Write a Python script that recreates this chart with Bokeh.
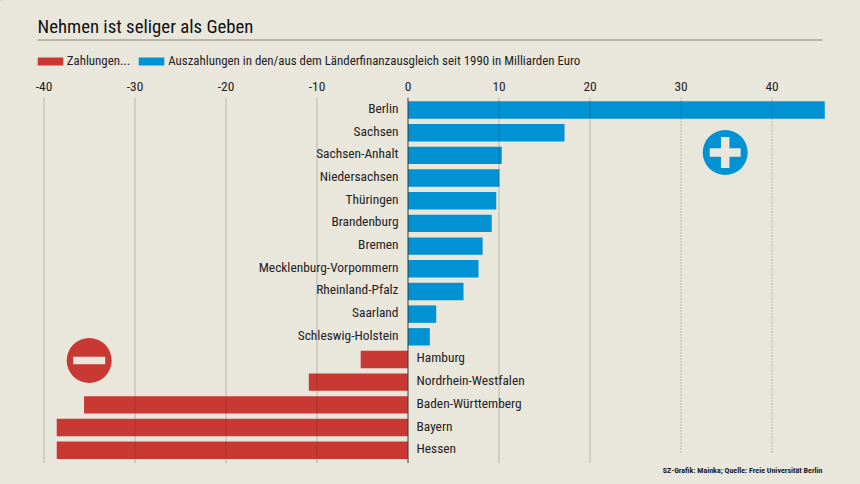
from bokeh.plotting import figure
from bokeh.models import Range1d, FixedTicker, Legend, LegendItem
from bokeh.layouts import column
from bokeh.core.properties import value
from bokeh.embed import file_html
from bokeh.resources import INLINE

title_text = "Nehmen ist seliger als Geben"
legend_red = "Zahlungen..."
legend_blue = "Auszahlungen in den/aus dem Länderfinanzausgleich seit 1990 in Milliarden Euro"
source_text = "SZ-Grafik: Mainka; Quelle: Freie Universität Berlin"

receivers = ["Berlin", "Sachsen", "Sachsen-Anhalt", "Niedersachsen", "Thüringen", "Brandenburg", "Bremen",
             "Mecklenburg-Vorpommern", "Rheinland-Pfalz", "Saarland", "Schleswig-Holstein"]
receiver_values = [45.8, 17.2, 10.3, 10.05, 9.7, 9.2, 8.2, 7.75, 6.1, 3.1, 2.4]
payers = ["Hamburg", "Nordrhein-Westfalen", "Baden-Württemberg", "Bayern", "Hessen"]
payer_values = [-5.2, -10.9, -35.6, -38.6, -38.6]
ticks = [-40, -30, -20, -10, 0, 10, 20, 30, 40]
tick_labels = ["-40", "-30", "-20", "-10", "0", "10", "20", "30", "40"]

BG = "#e9e6dc"; RED = "#c93832"; BLUE = "#0092d2"; INK = "#222222"
FONT = "Roboto Condensed"
LABEL_SIZE = "13.4px"
W, H = 860, 484
HEAD = 71
FOOT = 21
TOP, BOTTOM = 97 - HEAD, 463 - HEAD
PX_X, PX_Y = 9.1, 22.68
X0, Y0 = 407.5, 109.5 - HEAD

x_range = Range1d(-X0 / PX_X, (W - X0) / PX_X)
y_range = Range1d((BOTTOM - Y0) / PX_Y, (TOP - Y0) / PX_Y)

p = figure(width=W, height=H - HEAD - FOOT, x_range=x_range, y_range=y_range, output_backend="svg",
           toolbar_location=None, x_axis_location="above", y_axis_location=None, min_border_left=0,
           min_border_right=0, min_border_top=TOP, min_border_bottom=0, background_fill_color=BG,
           border_fill_color=BG)
p.outline_line_color = None
p.grid.visible = False

ax = p.xaxis[0]
ax.ticker = FixedTicker(ticks=ticks)
ax.major_label_overrides = dict(zip(ticks, tick_labels))
ax.axis_line_color = None
ax.major_tick_line_color = None
ax.minor_tick_line_color = None
ax.major_label_text_font = FONT
ax.major_label_text_font_size = LABEL_SIZE
ax.major_label_text_color = INK
ax.major_label_standoff = 1

recv_y = list(range(len(receivers)))
pay_y = [len(receivers) + i for i in range(len(payers))]
bar_h = 17.4 / PX_Y
p.hbar(y=recv_y, left=0, right=receiver_values, height=bar_h, fill_color=BLUE, line_color=None)
p.hbar(y=pay_y, left=0, right=payer_values, height=bar_h, fill_color=RED, line_color=None)

long_ticks = [t for t in ticks if t != 0 and t <= 20]
short_ticks = [t for t in ticks if t > 20]
p.segment(x0=long_ticks, x1=long_ticks, y0=y_range.end, y1=y_range.start, line_color="#3a3a34",
          line_alpha=0.7, line_width=0.8, line_dash="1 1")
p.segment(x0=short_ticks, x1=short_ticks, y0=y_range.end, y1=(452 - HEAD - Y0) / PX_Y, line_color="#3a3a34",
          line_alpha=0.7, line_width=0.8, line_dash="1 2")
p.segment(x0=[0], x1=[0], y0=y_range.end, y1=y_range.start, line_color="#3a3a34", line_width=1)

p.text(x=0, y=recv_y, text=receivers, x_offset=-9.5, y_offset=-1.5, text_align="right", text_baseline="middle",
       text_font=value(FONT), text_font_size=LABEL_SIZE, text_color=INK)
p.text(x=0, y=pay_y, text=payers, x_offset=8.5, y_offset=-1.5, text_align="left", text_baseline="middle",
       text_font=value(FONT), text_font_size=LABEL_SIZE, text_color=INK)

plus_x, plus_y = (724.7 - X0) / PX_X, (152 - HEAD - Y0) / PX_Y
minus_x, minus_y = (88.7 - X0) / PX_X, (360 - HEAD - Y0) / PX_Y
p.scatter(x=[plus_x], y=[plus_y], size=45, marker="circle", fill_color=BLUE, line_color=None)
p.rect(x=[plus_x, plus_x], y=[plus_y, plus_y], width=[31, 8.5], height=[8.5, 31],
       width_units="screen", height_units="screen", fill_color=BG, line_color=None)
p.scatter(x=[minus_x], y=[minus_y], size=45, marker="circle", fill_color=RED, line_color=None)
p.rect(x=[minus_x], y=[minus_y], width=32, height=7.5, width_units="screen", height_units="screen",
       fill_color=BG, line_color=None)

# header: title, rule, legend
head = figure(width=W, height=HEAD, x_range=Range1d(0, W), y_range=Range1d(HEAD, 0), output_backend="svg",
              toolbar_location=None, x_axis_location=None, y_axis_location=None, min_border=0,
              background_fill_color=BG, border_fill_color=BG)
head.outline_line_color = None
head.grid.visible = False
head.text(x=[37], y=[26], text=[title_text], text_font=value(FONT), text_font_size="18.8px", text_color="#111111",
          text_baseline="alphabetic")
head.segment(x0=[37], x1=[822], y0=[39.5], y1=[39.5], line_color="#a8a597", line_width=1.5)
# swatch sources lie off the visible range: only their legend entries show
sw_red = head.hbar(y=[-50], left=[0], right=[1], height=1, fill_color=RED, line_color=None)
sw_blue = head.hbar(y=[-50], left=[0], right=[1], height=1, fill_color=BLUE, line_color=None)
legend = Legend(items=[LegendItem(label=legend_red, renderers=[sw_red]),
                       LegendItem(label=legend_blue, renderers=[sw_blue])],
                orientation="horizontal", location=(33.75, 3), margin=0, padding=0, spacing=5,
                glyph_width=32, glyph_height=10, label_standoff=1, background_fill_alpha=0, border_line_alpha=0,
                label_text_font=FONT, label_text_font_size="12.9px", label_text_color=INK)
head.add_layout(legend, "center")

# footer: source line
foot = figure(width=W, height=FOOT, x_range=Range1d(0, W), y_range=Range1d(FOOT, 0), output_backend="svg",
              toolbar_location=None, x_axis_location=None, y_axis_location=None, min_border=0,
              background_fill_color=BG, border_fill_color=BG)
foot.outline_line_color = None
foot.grid.visible = False
foot.text(x=[822], y=[7], text=[source_text], text_font=value(FONT), text_font_size="8px",
          text_font_style="bold", text_color=INK, text_align="right", text_baseline="middle")

html = file_html(column(head, p, foot, spacing=0), INLINE).replace("<body>", f'<body style="background:{BG}">')
open("out.html", "w").write(html)
